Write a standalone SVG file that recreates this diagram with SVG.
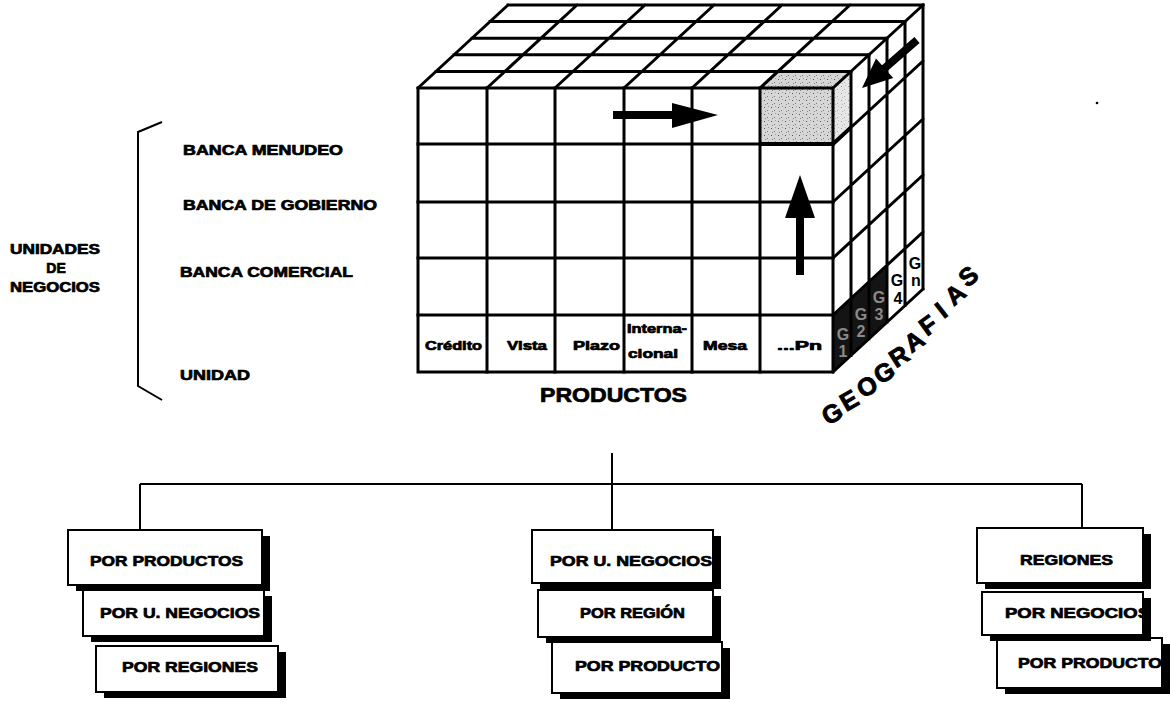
<svg xmlns="http://www.w3.org/2000/svg" width="1170" height="703" viewBox="0 0 1170 703">
<style>
.t{font-family:"Liberation Sans",Arial,sans-serif;font-weight:bold;fill:#000;stroke:#000;stroke-width:0.7;stroke-linejoin:round}
.ln{stroke:#000;stroke-width:3;fill:none;stroke-linecap:square}
.cn{stroke:#000;stroke-width:2;fill:none}
.bx{fill:#fff;stroke:#000;stroke-width:2}
.sh{fill:#000}
.gd{font-family:"Liberation Sans",Arial,sans-serif;font-weight:bold;font-size:16px;text-anchor:middle;dominant-baseline:central}
.geo{font-family:"Liberation Sans",Arial,sans-serif;font-weight:bold;font-size:25px;text-anchor:middle;dominant-baseline:central;fill:#000;stroke:#000;stroke-width:0.9}
</style>
<defs>
<pattern id="st" width="7" height="7" patternUnits="userSpaceOnUse">
<rect width="7" height="7" fill="#d6d6d6"/>
<rect x="1" y="2" width="1" height="1" fill="#555"/>
<rect x="4" y="5" width="1" height="1" fill="#777"/>
<rect x="5" y="1" width="1" height="1" fill="#999"/>
<rect x="2" y="6" width="1" height="1" fill="#888"/>
</pattern>
</defs>
<rect width="1170" height="703" fill="#fff"/>

<g id="cube">
<rect x="760" y="88" width="73" height="56" fill="url(#st)"/>
<polygon points="760,88 778,71.4 851,71.4 833,88" fill="url(#st)"/>
<polygon points="833,88 851,71.4 851,127.4 833,144" fill="url(#st)" opacity="0.6"/>
<polygon points="833,315 887,265.2 887,322.2 833,372" fill="#141414"/>
<rect x="418" y="88" width="415" height="284" class="ln"/>
<path class="ln" d="M487,88V372M555,88V372M624,88V372M692,88V372M760,88V372M418,144H833M418,202H833M418,258H833M418,315H833"/>
<path class="ln" d="M436,71.4H851M454,54.8H869M472,38.2H887M490,21.6H905M508,5H923M418,88L508,5M487,88L577,5M555,88L645,5M624,88L714,5M692,88L782,5M760,88L850,5M833,88L923,5"/>
<path class="ln" d="M851,71.4V355.4M869,54.8V338.8M887,38.2V322.2M905,21.6V305.6M923,5V289M833,144L923,61M833,202L923,119M833,258L923,175M833,315L923,232M833,372L923,289"/>
<path d="M760,144H833L851,127.4" stroke="#000" stroke-width="4" fill="none"/>
<polygon points="613,111 672,111 672,103 718,115 672,128 672,119 613,119" fill="#000"/>
<polygon points="796,275 796,218 785,218 800,175 815,218 804,218 804,275" fill="#000"/>
<polygon points="914.4,37 882,65.3 876,58.5 862,88 893.2,78.1 887.2,71.3 919.6,43" fill="#000"/>
<text class="gd" x="843" y="334" fill="#8a8a8a">G</text><text class="gd" x="843" y="351" fill="#8a8a8a">1</text>
<text class="gd" x="861" y="314" fill="#8a8a8a">G</text><text class="gd" x="861" y="331" fill="#8a8a8a">2</text>
<text class="gd" x="879" y="297" fill="#8a8a8a">G</text><text class="gd" x="879" y="314" fill="#8a8a8a">3</text>
<text class="gd" x="897" y="280" fill="#000">G</text><text class="gd" x="898" y="298" fill="#000">4</text>
<text class="gd" x="915" y="263" fill="#000">G</text><text class="gd" x="916" y="280" fill="#000">n</text>
<text class="t" x="425" y="350" font-size="12" textLength="57" lengthAdjust="spacingAndGlyphs">Crédito</text>
<text class="t" x="507" y="350" font-size="12" textLength="40" lengthAdjust="spacingAndGlyphs">Vista</text>
<text class="t" x="573" y="350" font-size="12" textLength="47" lengthAdjust="spacingAndGlyphs">Plazo</text>
<text class="t" x="627" y="333" font-size="12" textLength="60" lengthAdjust="spacingAndGlyphs">Interna-</text>
<text class="t" x="628" y="358" font-size="12" textLength="50" lengthAdjust="spacingAndGlyphs">cional</text>
<text class="t" x="703" y="350" font-size="12" textLength="44" lengthAdjust="spacingAndGlyphs">Mesa</text>
<text class="t" x="777" y="350" font-size="12" textLength="45" lengthAdjust="spacingAndGlyphs">...Pn</text>
</g>

<g id="productos">
<text class="t" x="540" y="402" font-size="20" textLength="147" lengthAdjust="spacingAndGlyphs">PRODUCTOS</text>
</g>

<g id="geografias">
<text class="geo" transform="translate(832,413) rotate(-30)">G</text>
<text class="geo" transform="translate(849,400) rotate(-30)">E</text>
<text class="geo" transform="translate(867,386) rotate(-30)">O</text>
<text class="geo" transform="translate(884,372) rotate(-30)">G</text>
<text class="geo" transform="translate(899,356) rotate(-32)">R</text>
<text class="geo" transform="translate(914,341) rotate(-34)">A</text>
<text class="geo" transform="translate(928,325) rotate(-36)">F</text>
<text class="geo" transform="translate(941,310) rotate(-38)">I</text>
<text class="geo" transform="translate(955,294) rotate(-40)">A</text>
<text class="geo" transform="translate(968,276) rotate(-40)">S</text>
</g>

<g id="unidades">
<path class="cn" d="M162,122L138,132V386L162,400"/>
<text class="t" x="10" y="254" font-size="14" textLength="90" lengthAdjust="spacingAndGlyphs">UNIDADES</text>
<text class="t" x="56" y="273" font-size="14" text-anchor="middle">DE</text>
<text class="t" x="10" y="292" font-size="14" textLength="90" lengthAdjust="spacingAndGlyphs">NEGOCIOS</text>
<text class="t" x="183" y="155" font-size="14" textLength="160" lengthAdjust="spacingAndGlyphs">BANCA MENUDEO</text>
<text class="t" x="183" y="210" font-size="14" textLength="194" lengthAdjust="spacingAndGlyphs">BANCA DE GOBIERNO</text>
<text class="t" x="180" y="277" font-size="14" textLength="173" lengthAdjust="spacingAndGlyphs">BANCA COMERCIAL</text>
<text class="t" x="180" y="380" font-size="14" textLength="70" lengthAdjust="spacingAndGlyphs">UNIDAD</text>
</g>

<g id="connectors">
<path class="cn" d="M612,453V530M140,484H1082M140,484V530M1082,484V530"/>
<circle cx="1097" cy="103" r="1.3" fill="#000"/>
</g>

<g id="left-stack">
<rect class="sh" x="104" y="652" width="182" height="46"/>
<rect class="bx" x="96" y="646" width="182" height="46"/>
<text class="t" x="122" y="672" font-size="15" textLength="136" lengthAdjust="spacingAndGlyphs">POR REGIONES</text>
<rect class="sh" x="91" y="596" width="181" height="46"/>
<rect class="bx" x="83" y="590" width="181" height="46"/>
<text class="t" x="100" y="618" font-size="15" textLength="160" lengthAdjust="spacingAndGlyphs">POR U. NEGOCIOS</text>
<rect class="sh" x="76" y="536" width="194" height="55"/>
<rect class="bx" x="68" y="530" width="194" height="55"/>
<text class="t" x="90" y="566" font-size="15" textLength="153" lengthAdjust="spacingAndGlyphs">POR PRODUCTOS</text>
</g>

<g id="middle-stack">
<rect class="sh" x="560" y="648" width="170" height="51"/>
<rect class="bx" x="552" y="642" width="170" height="51"/>
<text class="t" x="575" y="671" font-size="15" textLength="145" lengthAdjust="spacingAndGlyphs">POR PRODUCTO</text>
<rect class="sh" x="546" y="596" width="175" height="47"/>
<rect class="bx" x="538" y="590" width="175" height="47"/>
<text class="t" x="580" y="618" font-size="15" textLength="105" lengthAdjust="spacingAndGlyphs">POR REGIÓN</text>
<rect class="sh" x="540" y="536" width="181" height="53"/>
<rect class="bx" x="532" y="530" width="181" height="53"/>
<text class="t" x="550" y="566" font-size="15" textLength="162" lengthAdjust="spacingAndGlyphs">POR U. NEGOCIOS</text>
</g>

<g id="right-stack">
<rect class="sh" x="1005" y="644" width="165" height="50"/>
<rect class="bx" x="997" y="638" width="165" height="50"/>
<text class="t" x="1018" y="668" font-size="15" textLength="144" lengthAdjust="spacingAndGlyphs">POR PRODUCTO</text>
<rect class="sh" x="990" y="598" width="161" height="43"/>
<rect class="bx" x="982" y="592" width="161" height="43"/>
<text class="t" x="1005" y="618" font-size="15" textLength="145" lengthAdjust="spacingAndGlyphs">POR NEGOCIOS</text>
<rect class="sh" x="985" y="534" width="166" height="55"/>
<rect class="bx" x="977" y="528" width="166" height="55"/>
<text class="t" x="1020" y="565" font-size="15" textLength="93" lengthAdjust="spacingAndGlyphs">REGIONES</text>
</g>
</svg>
